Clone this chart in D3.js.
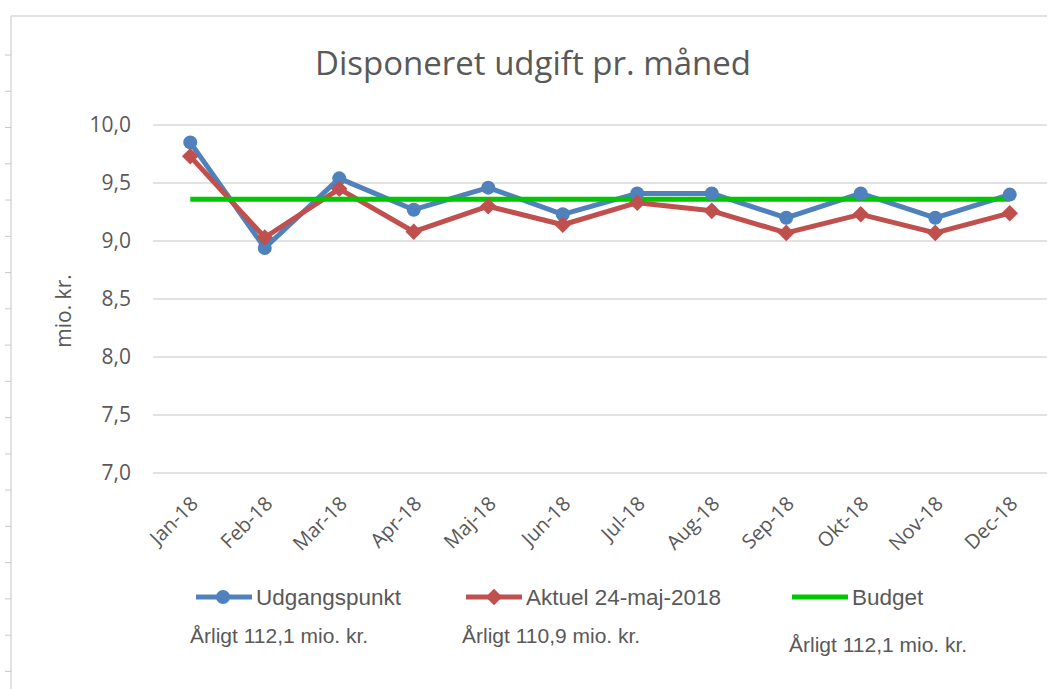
<!DOCTYPE html>
<html>
<head>
<meta charset="utf-8">
<script src="https://cdn.jsdelivr.net/npm/d3@7"></script>
<style>
  body { margin: 0; background: #fff; }
  text { fill: #595959; }
</style>
</head>
<body>
<div id="vis"></div>
<script>
// chart data
const months = ["Jan-18", "Feb-18", "Mar-18", "Apr-18", "Maj-18", "Jun-18",
  "Jul-18", "Aug-18", "Sep-18", "Okt-18", "Nov-18", "Dec-18"];
const udgangspunkt = [9.85, 8.94, 9.54, 9.27, 9.46, 9.23, 9.41, 9.41, 9.20, 9.41, 9.20, 9.40];
const aktuel = [9.73, 9.03, 9.45, 9.08, 9.30, 9.14, 9.33, 9.26, 9.07, 9.23, 9.07, 9.24];
const budget = [9.36, 9.36, 9.36, 9.36, 9.36, 9.36, 9.36, 9.36, 9.36, 9.36, 9.36, 9.36];
const yTicks = [7.0, 7.5, 8.0, 8.5, 9.0, 9.5, 10.0];
const seriesNames = ["Udgangspunkt", "Aktuel 24-maj-2018", "Budget"];
const annualNotes = ["Årligt 112,1 mio. kr.", "Årligt 110,9 mio. kr.", "Årligt 112,1 mio. kr."];

let width = 1052,
  height = 689;

let svg = d3
  .select("#vis")
  .append("svg")
  .attr("width", width)
  .attr("height", height)
  .style("display", "block");

// frame of the sheet: left rule with ticks and top line
svg.append("line")
  .attr("x1", 11).attr("x2", 11).attr("y1", 16).attr("y2", height)
  .attr("stroke", "#d9d9d9").attr("stroke-width", 1.5);
svg.append("line")
  .attr("x1", 11).attr("x2", 1047).attr("y1", 16).attr("y2", 16)
  .attr("stroke", "#d9d9d9").attr("stroke-width", 1.5);
svg.selectAll(".rulerTick")
  .data(d3.range(55, height, 36.26))
  .join("line")
  .attr("class", "rulerTick")
  .attr("x1", 5).attr("x2", 11)
  .attr("y1", d => d).attr("y2", d => d)
  .attr("stroke", "#c8c8c8").attr("stroke-width", 1);

// scales
let x = d3.scaleBand().domain(months).range([153, 1047]).padding(0);
let y = d3.scaleLinear().domain([7, 10]).range([473, 125]);
const cx = d => x(d) + x.bandwidth() / 2;

// title
svg.append("text")
  .attr("x", 533)
  .attr("y", 75)
  .attr("text-anchor", "middle")
  .style("font-family", "'Open Sans', sans-serif")
  .style("font-size", "33px")
  .text("Disponeret udgift pr. måned");

// gridlines
svg.append("g")
  .selectAll("line")
  .data(yTicks)
  .join("line")
  .attr("x1", 153).attr("x2", 1047)
  .attr("y1", d => y(d)).attr("y2", d => y(d))
  .attr("stroke", "#d9d9d9").attr("stroke-width", 1.5);

// y axis
let yAxis = svg.append("g")
  .attr("transform", "translate(153,0)")
  .call(d3.axisLeft(y).tickValues(yTicks).tickSize(0).tickPadding(22)
    .tickFormat(d => d3.format(".1f")(d).replace(".", ",")));
yAxis.select(".domain").remove();
yAxis.selectAll("text")
  .style("font-family", "'Open Sans', sans-serif")
  .style("font-size", "21px")
  .attr("fill", "#595959");

svg.append("text")
  .attr("transform", "translate(71,311) rotate(-90)")
  .attr("text-anchor", "middle")
  .style("font-family", "'Open Sans', sans-serif")
  .style("font-size", "21px")
  .text("mio. kr.");

// x axis labels, rotated
let xAxis = svg.append("g")
  .attr("transform", "translate(0,473)")
  .call(d3.axisBottom(x).tickSize(0).tickPadding(0));
xAxis.select(".domain").remove();
xAxis.selectAll("text")
  .attr("text-anchor", "end")
  .attr("dy", 0)
  .attr("transform", "translate(9,32) rotate(-45)")
  .style("font-family", "'Open Sans', sans-serif")
  .style("font-size", "20px")
  .attr("fill", "#595959");

// lines
const line = d3.line()
  .x((d, i) => cx(months[i]))
  .y(d => y(d));

svg.append("path").datum(udgangspunkt)
  .attr("d", line).attr("fill", "none")
  .attr("stroke", "#4f81bd").attr("stroke-width", 5).attr("stroke-linejoin", "round");
svg.append("path").datum(aktuel)
  .attr("d", line).attr("fill", "none")
  .attr("stroke", "#c0504d").attr("stroke-width", 5).attr("stroke-linejoin", "round");
svg.append("path").datum(budget)
  .attr("d", line).attr("fill", "none")
  .attr("stroke", "#00c800").attr("stroke-width", 5);

// markers
svg.append("g")
  .selectAll("circle")
  .data(udgangspunkt)
  .join("circle")
  .attr("cx", (d, i) => cx(months[i]))
  .attr("cy", d => y(d))
  .attr("r", 7)
  .attr("fill", "#4f81bd");

const diamond = d3.symbol().type(d3.symbolDiamond2).size(175);
svg.append("g")
  .selectAll("path")
  .data(aktuel)
  .join("path")
  .attr("d", diamond)
  .attr("transform", (d, i) => `translate(${cx(months[i])},${y(d)})`)
  .attr("fill", "#c0504d");

// legend
const legendX = [196, 466, 792];
const legendColors = ["#4f81bd", "#c0504d", "#00c800"];
let legend = svg.append("g");
legendX.forEach((lx, i) => {
  legend.append("line")
    .attr("x1", lx).attr("x2", lx + 56)
    .attr("y1", 597).attr("y2", 597)
    .attr("stroke", legendColors[i]).attr("stroke-width", 5);
  if (i === 0) {
    legend.append("circle").attr("cx", lx + 27).attr("cy", 597).attr("r", 7).attr("fill", legendColors[i]);
  } else if (i === 1) {
    legend.append("path").attr("d", diamond)
      .attr("transform", `translate(${lx + 28},597)`).attr("fill", legendColors[i]);
  }
  legend.append("text")
    .attr("x", lx + 60)
    .attr("y", 605)
    .style("font-family", "'Liberation Sans', Arial, sans-serif")
    .style("font-size", "22.5px")
    .text(seriesNames[i]);
});

// yearly totals under the legend
const noteX = [190, 462, 789];
const noteY = [643, 643, 652];
svg.append("g")
  .selectAll("text")
  .data(annualNotes)
  .join("text")
  .attr("x", (d, i) => noteX[i])
  .attr("y", (d, i) => noteY[i])
  .style("font-family", "'Liberation Sans', Arial, sans-serif")
  .style("font-size", "21px")
  .attr("fill", "#404040")
  .text(d => d);
</script>
</body>
</html>
